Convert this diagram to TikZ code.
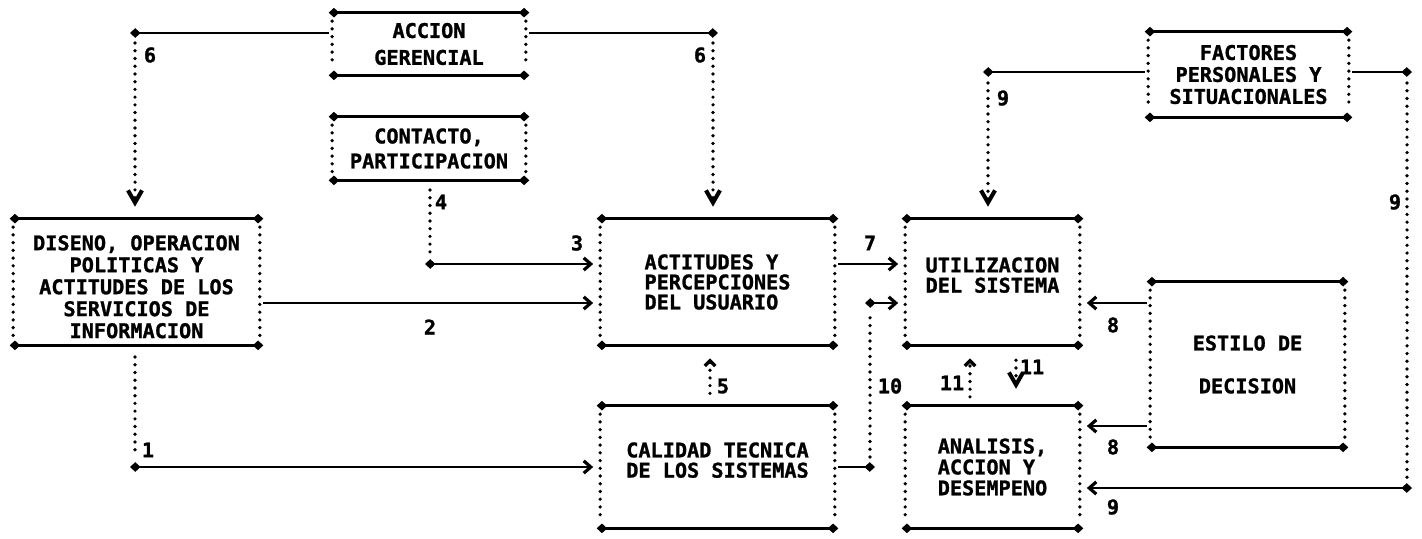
\documentclass[tikz,border=0pt]{standalone}
\usepackage{fontspec}
\usepackage{tikz}
\usetikzlibrary{arrows.meta}
\newfontfamily\lpfamily[FakeBold=1.2]{DejaVu Sans Mono}
\newcommand{\lpfont}{\lpfamily\bfseries\fontsize{11.5}{12.5}\selectfont}

\begin{document}
\begin{tikzpicture}[x=0.02cm,y=-0.02cm]
    \tikzstyle{hline}=[line width=1.6pt]
    \tikzstyle{vdots}=[line width=2.1pt, line cap=round, dash pattern=on 0pt off 4.4pt]
    \tikzstyle{lpbox}=[font=\lpfont, inner sep=0pt, align=center]
    \tikzstyle{num}=[font=\lpfont, inner sep=0pt]
    \tikzset{
      gtip/.tip={Straight Barb[length=4pt,width=7pt,line width=1.8pt]},
      vtip/.tip={Straight Barb[length=7pt,width=8pt,line width=2.3pt]},
      ctip/.tip={Straight Barb[length=3pt,width=6pt,line width=1.9pt]},
      ptip/.tip={Turned Square[length=6pt,width=5.5pt]}
    }

    \useasboundingbox[fill=white] (0,0) rectangle (1422,538);

    % boxes
    \node[lpbox, minimum width=4cm, minimum height=1.24cm] (acc) at (429,44) {ACCION\\[2.8pt]GERENCIAL};
    \node[lpbox, minimum width=4cm, minimum height=1.26cm] (con) at (429,148.5) {CONTACTO,\\[1.7pt]PARTICIPACION};
    \node[lpbox, text height=64pt, minimum width=5.06cm, minimum height=2.52cm] (dis) at (136.5,282) {DISENO, OPERACION\\POLITICAS Y\\ACTITUDES DE LOS\\SERVICIOS DE\\INFORMACION};
    \node[lpbox, align=left, minimum width=4.82cm, minimum height=2.52cm] (act) at (717.5,282) {ACTITUDES Y\\[-1.1pt]PERCEPCIONES\\[-1.1pt]DEL USUARIO};
    \node[lpbox, text depth=8pt, minimum width=4.82cm, minimum height=2.44cm] (cal) at (717.5,467) {CALIDAD TECNICA\\[-1pt]DE LOS SISTEMAS};
    \node[lpbox, align=left, text depth=8pt, minimum width=3.62cm, minimum height=2.52cm] (uti) at (992.5,282) {UTILIZACION\\[-1pt]DEL SISTEMA};
    \node[lpbox, align=left, minimum width=3.62cm, minimum height=2.44cm] (ana) at (992.5,467) {ANALISIS,\\[-0.6pt]ACCION Y\\[-0.6pt]DESEMPENO};
    \node[lpbox, minimum width=4.14cm, minimum height=1.7cm] (fac) at (1248.5,74.5) {FACTORES\\PERSONALES Y\\SITUACIONALES};
    \node[lpbox, minimum width=4.02cm, minimum height=3.3cm] (est) at (1247.5,364.5) {ESTILO DE\\[11.9pt]DECISION};

    \foreach \b in {acc,con,dis,act,cal,uti,ana,fac,est} {
      \draw[hline, ptip-ptip] (\b.north west) -- (\b.north east);
      \draw[hline, ptip-ptip] (\b.south west) -- (\b.south east);
      \draw[vdots] ([xshift=0.07cm,yshift=-0.17cm]\b.north west) -- ([xshift=0.07cm,yshift=0.17cm]\b.south west);
      \draw[vdots] ([xshift=-0.07cm,yshift=-0.17cm]\b.north east) -- ([xshift=-0.07cm,yshift=0.17cm]\b.south east);
    }

    % 6: accion gerencial
    \draw[hline, -ptip] (acc.west |- 0,33) -- (130,33);
    \draw[vdots, -vtip, shorten >=6.8pt] (135,43) -- (dis.north -| 135,0);
    \draw[hline, -ptip] (acc.east |- 0,33) -- (718,33);
    \draw[vdots, -vtip, shorten >=6.8pt] (713,43) -- (act.north -| 713,0);

    % 4: contacto
    \draw[vdots] (430,190) -- (430,254);
    \draw[hline, ptip-gtip, shorten >=2pt] (425,264) -- (act.west |- 0,264);

    % 2, 1
    \draw[hline, -gtip, shorten >=2pt] (dis.east |- 0,303) -- (act.west |- 0,303);
    \draw[vdots] (135,357) -- (135,457);
    \draw[hline, ptip-gtip, shorten >=2pt] (130,467) -- (cal.west |- 0,467);

    % 5, 7, 10
    \draw[vdots, -ctip, shorten <=7pt, shorten >=7.4pt] (cal.north -| 710,0) -- (act.south -| 710,0);
    \draw[hline, -gtip, shorten >=2pt] (act.east |- 0,264) -- (uti.west |- 0,264);
    \draw[hline, -ptip] (cal.east) -- (875,467);
    \draw[vdots] (870,457) -- (870,313);
    \draw[hline, ptip-gtip, shorten >=2pt] (865,303) -- (uti.west |- 0,303);

    % 11
    \draw[vdots, -ctip, shorten <=5pt, shorten >=7.4pt] (ana.north -| 970,0) -- (uti.south -| 970,0);
    \draw[vdots, -vtip, shorten <=8.5pt, shorten >=9.6pt] (uti.south -| 1016,0) -- (ana.north -| 1016,0);

    % 9: factores
    \draw[hline, -ptip] (fac.west |- 0,72) -- (983,72);
    \draw[vdots, -vtip, shorten >=6.8pt] (988,83) -- (uti.north -| 988,0);
    \draw[hline, -ptip] (fac.east |- 0,72) -- (1412,72);
    \draw[vdots] (1407,83) -- (1407,478);
    \draw[hline, ptip-gtip, shorten >=2pt] (1412,488) -- (ana.east |- 0,488);

    % 8: estilo
    \draw[hline, -gtip, shorten >=2pt] (est.west |- 0,303) -- (uti.east |- 0,303);
    \draw[hline, -gtip, shorten >=2pt] (est.west |- 0,426) -- (ana.east |- 0,426);

    % numbers
    \node[num] (n6a) at (150,55) {6};
    \node[num] (n6b) at (700,55) {6};
    \node[num] (n4) at (441,202) {4};
    \node[num] (n3) at (577,243) {3};
    \node[num] (n2) at (430,327) {2};
    \node[num] (n1) at (148,450) {1};
    \node[num] (n5) at (723,386) {5};
    \node[num] (n7) at (870,243) {7};
    \node[num] (n10) at (890,386) {10};
    \node[num] (n11a) at (952,383) {11};
    \node[num] (n11b) at (1032,367) {11};
    \node[num] (n9a) at (1003,98) {9};
    \node[num] (n9b) at (1395,202) {9};
    \node[num] (n9c) at (1113,507) {9};
    \node[num] (n8a) at (1113,325) {8};
    \node[num] (n8b) at (1113,447) {8};
\end{tikzpicture}
\end{document}
